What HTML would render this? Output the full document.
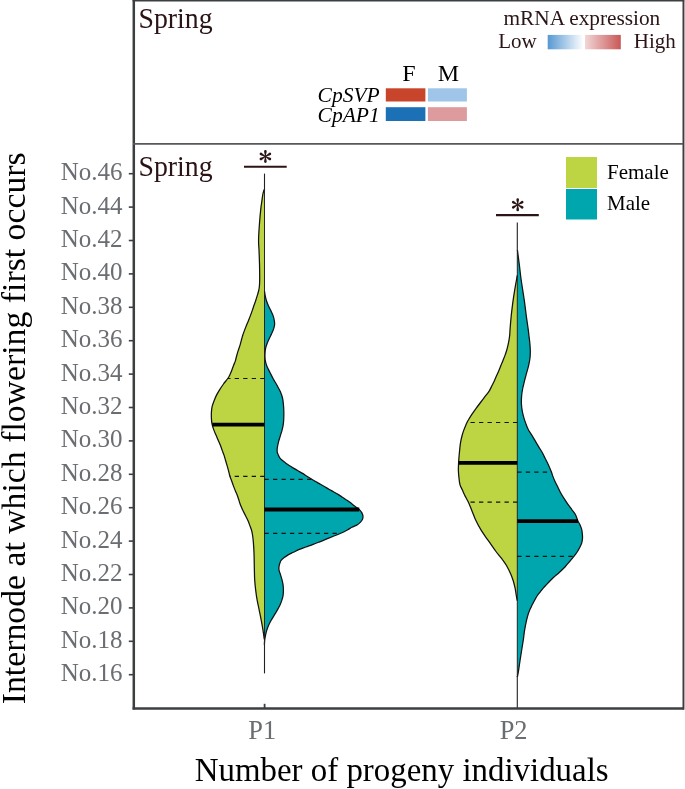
<!DOCTYPE html>
<html><head><meta charset="utf-8"><title>Violin</title><style>
html,body{margin:0;padding:0;background:#fff;overflow:hidden;}
svg{display:block;will-change:transform;}
text{font-family:"Liberation Serif",serif;}
</style></head><body>
<svg width="685" height="789" viewBox="0 0 685 789">
<rect width="685" height="789" fill="#fff"/>
<path d="M264.50,189.50 L264.20,189.50 C263.98,190.25 263.28,192.10 262.90,194.00 C262.52,195.90 262.23,198.58 261.90,200.90 C261.57,203.22 261.28,204.42 260.90,207.90 C260.52,211.38 259.97,217.15 259.60,221.80 C259.23,226.45 258.87,232.30 258.70,235.80 C258.53,239.30 258.55,240.48 258.60,242.80 C258.65,245.12 258.85,246.22 259.00,249.70 C259.15,253.18 259.38,259.05 259.50,263.70 C259.62,268.35 259.70,274.05 259.70,277.60 C259.70,281.15 259.65,282.92 259.50,285.00 C259.35,287.08 259.15,288.42 258.80,290.10 C258.45,291.78 257.90,293.42 257.40,295.10 C256.90,296.78 256.37,298.50 255.80,300.20 C255.23,301.90 254.58,303.60 254.00,305.30 C253.42,307.00 252.88,308.72 252.30,310.40 C251.72,312.08 251.13,313.72 250.50,315.40 C249.87,317.08 249.18,318.80 248.50,320.50 C247.82,322.20 247.08,323.92 246.40,325.60 C245.72,327.28 245.03,328.92 244.40,330.60 C243.77,332.28 243.13,334.00 242.60,335.70 C242.07,337.40 241.67,339.10 241.20,340.80 C240.73,342.50 240.32,344.22 239.80,345.90 C239.28,347.58 238.63,349.22 238.10,350.90 C237.57,352.58 237.07,354.30 236.60,356.00 C236.13,357.70 235.78,359.60 235.30,361.10 C234.82,362.60 234.27,363.52 233.70,365.00 C233.13,366.48 232.52,368.42 231.90,370.00 C231.28,371.58 230.68,373.08 230.00,374.50 C229.32,375.92 228.88,376.92 227.80,378.50 C226.72,380.08 224.85,382.13 223.50,384.00 C222.15,385.87 220.88,387.80 219.70,389.70 C218.52,391.60 217.35,393.52 216.40,395.40 C215.45,397.28 214.72,399.12 214.00,401.00 C213.28,402.88 212.53,404.80 212.10,406.70 C211.67,408.60 211.52,410.50 211.40,412.40 C211.28,414.30 211.30,416.20 211.40,418.10 C211.50,420.00 211.58,421.80 212.00,423.80 C212.42,425.80 213.23,428.22 213.90,430.10 C214.57,431.98 215.28,433.42 216.00,435.10 C216.72,436.78 217.47,438.50 218.20,440.20 C218.93,441.90 219.73,443.60 220.40,445.30 C221.07,447.00 221.58,448.72 222.20,450.40 C222.82,452.08 223.53,453.72 224.10,455.40 C224.67,457.08 225.10,458.80 225.60,460.50 C226.10,462.20 226.62,463.92 227.10,465.60 C227.58,467.28 228.03,468.83 228.50,470.60 C228.97,472.37 229.38,474.50 229.90,476.20 C230.42,477.90 231.02,479.18 231.60,480.80 C232.18,482.42 232.77,484.22 233.40,485.90 C234.03,487.58 234.72,489.22 235.40,490.90 C236.08,492.58 236.87,494.30 237.50,496.00 C238.13,497.70 238.70,499.58 239.20,501.10 C239.70,502.62 239.92,503.60 240.50,505.10 C241.08,506.60 241.90,508.42 242.70,510.10 C243.50,511.78 244.45,513.50 245.30,515.20 C246.15,516.90 247.05,518.60 247.80,520.30 C248.55,522.00 249.17,523.72 249.80,525.40 C250.43,527.08 251.13,528.72 251.60,530.40 C252.07,532.08 252.33,533.80 252.60,535.50 C252.87,537.20 253.03,538.92 253.20,540.60 C253.37,542.28 253.48,543.92 253.60,545.60 C253.72,547.28 253.82,549.00 253.90,550.70 C253.98,552.40 254.05,554.10 254.10,555.80 C254.15,557.50 254.15,558.37 254.20,560.90 C254.25,563.43 254.32,567.80 254.40,571.00 C254.48,574.20 254.48,576.88 254.70,580.10 C254.92,583.32 255.28,586.92 255.70,590.30 C256.12,593.68 256.60,597.02 257.20,600.40 C257.80,603.78 258.62,607.22 259.30,610.60 C259.98,613.98 260.67,617.32 261.30,620.70 C261.93,624.08 262.68,628.37 263.10,630.90 C263.52,633.43 263.60,634.47 263.80,635.90 C264.00,637.33 264.22,638.90 264.30,639.50 L264.50,639.50 Z" fill="#bdd443"/>
<path d="M264.50,291.10 L264.50,291.10 C264.60,291.77 264.80,293.58 265.10,295.10 C265.40,296.62 265.78,298.50 266.30,300.20 C266.82,301.90 267.47,303.62 268.20,305.30 C268.93,306.98 269.90,308.62 270.70,310.30 C271.50,311.98 272.40,313.70 273.00,315.40 C273.60,317.10 274.03,318.98 274.30,320.50 C274.57,322.02 274.70,323.15 274.60,324.50 C274.50,325.85 274.18,327.08 273.70,328.60 C273.22,330.12 272.45,331.92 271.70,333.60 C270.95,335.28 269.98,337.00 269.20,338.70 C268.42,340.40 267.62,342.12 267.00,343.80 C266.38,345.48 265.83,347.12 265.50,348.80 C265.17,350.48 265.05,352.03 265.00,353.90 C264.95,355.77 264.88,357.93 265.20,360.00 C265.52,362.07 266.08,364.18 266.90,366.30 C267.72,368.42 269.03,370.58 270.10,372.70 C271.17,374.82 272.15,376.90 273.30,379.00 C274.45,381.10 275.83,383.20 277.00,385.30 C278.17,387.40 279.38,389.48 280.30,391.60 C281.22,393.72 281.98,395.88 282.50,398.00 C283.02,400.12 283.18,402.20 283.40,404.30 C283.62,406.40 283.73,408.48 283.80,410.60 C283.87,412.72 283.87,414.88 283.80,417.00 C283.73,419.12 283.67,421.20 283.40,423.30 C283.13,425.40 282.72,427.50 282.20,429.60 C281.68,431.70 280.93,433.78 280.30,435.90 C279.67,438.02 278.92,440.18 278.40,442.30 C277.88,444.42 277.38,446.92 277.20,448.60 C277.02,450.28 277.12,451.33 277.30,452.40 C277.48,453.47 277.92,454.13 278.30,455.00 C278.68,455.87 278.95,456.72 279.60,457.60 C280.25,458.48 281.22,459.42 282.20,460.30 C283.18,461.18 284.33,462.03 285.50,462.90 C286.67,463.77 287.88,464.63 289.20,465.50 C290.52,466.37 291.93,467.22 293.40,468.10 C294.87,468.98 296.47,469.92 298.00,470.80 C299.53,471.68 301.18,472.53 302.60,473.40 C304.02,474.27 304.97,475.02 306.50,476.00 C308.03,476.98 310.37,478.42 311.80,479.30 C313.23,480.18 313.78,480.53 315.10,481.30 C316.42,482.07 318.17,483.03 319.70,483.90 C321.23,484.77 322.77,485.62 324.30,486.50 C325.83,487.38 327.37,488.32 328.90,489.20 C330.43,490.08 331.97,490.93 333.50,491.80 C335.03,492.67 336.68,493.53 338.10,494.40 C339.52,495.27 340.68,496.12 342.00,497.00 C343.32,497.88 344.68,498.82 346.00,499.70 C347.32,500.58 348.70,501.43 349.90,502.30 C351.10,503.17 352.10,504.02 353.20,504.90 C354.30,505.78 355.47,506.82 356.50,507.60 C357.53,508.38 358.50,508.72 359.40,509.60 C360.30,510.48 361.30,511.70 361.90,512.90 C362.50,514.10 362.92,515.70 363.00,516.80 C363.08,517.90 362.82,518.62 362.40,519.50 C361.98,520.38 361.33,521.23 360.50,522.10 C359.67,522.97 358.83,523.83 357.40,524.70 C355.97,525.57 353.58,526.42 351.90,527.30 C350.22,528.18 349.17,529.00 347.30,530.00 C345.43,531.00 343.12,532.22 340.70,533.30 C338.28,534.38 335.22,535.52 332.80,536.50 C330.38,537.48 328.38,538.32 326.20,539.20 C324.02,540.08 321.88,540.93 319.70,541.80 C317.52,542.67 315.40,543.53 313.10,544.40 C310.80,545.27 308.30,546.12 305.90,547.00 C303.50,547.88 300.78,548.82 298.70,549.70 C296.62,550.58 295.17,551.43 293.40,552.30 C291.63,553.17 289.63,554.02 288.10,554.90 C286.57,555.78 285.33,556.72 284.20,557.60 C283.07,558.48 282.00,559.33 281.30,560.20 C280.60,561.07 280.37,561.83 280.00,562.80 C279.63,563.77 279.27,564.80 279.10,566.00 C278.93,567.20 278.75,568.48 279.00,570.00 C279.25,571.52 280.08,573.42 280.60,575.10 C281.12,576.78 281.68,578.42 282.10,580.10 C282.52,581.78 282.88,583.50 283.10,585.20 C283.32,586.90 283.40,588.60 283.40,590.30 C283.40,592.00 283.37,593.72 283.10,595.40 C282.83,597.08 282.35,598.72 281.80,600.40 C281.25,602.08 280.60,603.80 279.80,605.50 C279.00,607.20 277.97,608.92 277.00,610.60 C276.03,612.28 275.02,613.92 274.00,615.60 C272.98,617.28 271.83,619.00 270.90,620.70 C269.97,622.40 269.12,624.10 268.40,625.80 C267.68,627.50 267.10,629.22 266.60,630.90 C266.10,632.58 265.73,634.22 265.40,635.90 C265.07,637.58 264.77,639.48 264.60,641.00 C264.43,642.52 264.43,644.33 264.40,645.00 L264.50,645.00 Z" fill="#00a6ae"/>
<path d="M264.20,189.50 C263.98,190.25 263.28,192.10 262.90,194.00 C262.52,195.90 262.23,198.58 261.90,200.90 C261.57,203.22 261.28,204.42 260.90,207.90 C260.52,211.38 259.97,217.15 259.60,221.80 C259.23,226.45 258.87,232.30 258.70,235.80 C258.53,239.30 258.55,240.48 258.60,242.80 C258.65,245.12 258.85,246.22 259.00,249.70 C259.15,253.18 259.38,259.05 259.50,263.70 C259.62,268.35 259.70,274.05 259.70,277.60 C259.70,281.15 259.65,282.92 259.50,285.00 C259.35,287.08 259.15,288.42 258.80,290.10 C258.45,291.78 257.90,293.42 257.40,295.10 C256.90,296.78 256.37,298.50 255.80,300.20 C255.23,301.90 254.58,303.60 254.00,305.30 C253.42,307.00 252.88,308.72 252.30,310.40 C251.72,312.08 251.13,313.72 250.50,315.40 C249.87,317.08 249.18,318.80 248.50,320.50 C247.82,322.20 247.08,323.92 246.40,325.60 C245.72,327.28 245.03,328.92 244.40,330.60 C243.77,332.28 243.13,334.00 242.60,335.70 C242.07,337.40 241.67,339.10 241.20,340.80 C240.73,342.50 240.32,344.22 239.80,345.90 C239.28,347.58 238.63,349.22 238.10,350.90 C237.57,352.58 237.07,354.30 236.60,356.00 C236.13,357.70 235.78,359.60 235.30,361.10 C234.82,362.60 234.27,363.52 233.70,365.00 C233.13,366.48 232.52,368.42 231.90,370.00 C231.28,371.58 230.68,373.08 230.00,374.50 C229.32,375.92 228.88,376.92 227.80,378.50 C226.72,380.08 224.85,382.13 223.50,384.00 C222.15,385.87 220.88,387.80 219.70,389.70 C218.52,391.60 217.35,393.52 216.40,395.40 C215.45,397.28 214.72,399.12 214.00,401.00 C213.28,402.88 212.53,404.80 212.10,406.70 C211.67,408.60 211.52,410.50 211.40,412.40 C211.28,414.30 211.30,416.20 211.40,418.10 C211.50,420.00 211.58,421.80 212.00,423.80 C212.42,425.80 213.23,428.22 213.90,430.10 C214.57,431.98 215.28,433.42 216.00,435.10 C216.72,436.78 217.47,438.50 218.20,440.20 C218.93,441.90 219.73,443.60 220.40,445.30 C221.07,447.00 221.58,448.72 222.20,450.40 C222.82,452.08 223.53,453.72 224.10,455.40 C224.67,457.08 225.10,458.80 225.60,460.50 C226.10,462.20 226.62,463.92 227.10,465.60 C227.58,467.28 228.03,468.83 228.50,470.60 C228.97,472.37 229.38,474.50 229.90,476.20 C230.42,477.90 231.02,479.18 231.60,480.80 C232.18,482.42 232.77,484.22 233.40,485.90 C234.03,487.58 234.72,489.22 235.40,490.90 C236.08,492.58 236.87,494.30 237.50,496.00 C238.13,497.70 238.70,499.58 239.20,501.10 C239.70,502.62 239.92,503.60 240.50,505.10 C241.08,506.60 241.90,508.42 242.70,510.10 C243.50,511.78 244.45,513.50 245.30,515.20 C246.15,516.90 247.05,518.60 247.80,520.30 C248.55,522.00 249.17,523.72 249.80,525.40 C250.43,527.08 251.13,528.72 251.60,530.40 C252.07,532.08 252.33,533.80 252.60,535.50 C252.87,537.20 253.03,538.92 253.20,540.60 C253.37,542.28 253.48,543.92 253.60,545.60 C253.72,547.28 253.82,549.00 253.90,550.70 C253.98,552.40 254.05,554.10 254.10,555.80 C254.15,557.50 254.15,558.37 254.20,560.90 C254.25,563.43 254.32,567.80 254.40,571.00 C254.48,574.20 254.48,576.88 254.70,580.10 C254.92,583.32 255.28,586.92 255.70,590.30 C256.12,593.68 256.60,597.02 257.20,600.40 C257.80,603.78 258.62,607.22 259.30,610.60 C259.98,613.98 260.67,617.32 261.30,620.70 C261.93,624.08 262.68,628.37 263.10,630.90 C263.52,633.43 263.60,634.47 263.80,635.90 C264.00,637.33 264.22,638.90 264.30,639.50" fill="none" stroke="#111" stroke-width="1.25"/>
<path d="M264.50,291.10 C264.60,291.77 264.80,293.58 265.10,295.10 C265.40,296.62 265.78,298.50 266.30,300.20 C266.82,301.90 267.47,303.62 268.20,305.30 C268.93,306.98 269.90,308.62 270.70,310.30 C271.50,311.98 272.40,313.70 273.00,315.40 C273.60,317.10 274.03,318.98 274.30,320.50 C274.57,322.02 274.70,323.15 274.60,324.50 C274.50,325.85 274.18,327.08 273.70,328.60 C273.22,330.12 272.45,331.92 271.70,333.60 C270.95,335.28 269.98,337.00 269.20,338.70 C268.42,340.40 267.62,342.12 267.00,343.80 C266.38,345.48 265.83,347.12 265.50,348.80 C265.17,350.48 265.05,352.03 265.00,353.90 C264.95,355.77 264.88,357.93 265.20,360.00 C265.52,362.07 266.08,364.18 266.90,366.30 C267.72,368.42 269.03,370.58 270.10,372.70 C271.17,374.82 272.15,376.90 273.30,379.00 C274.45,381.10 275.83,383.20 277.00,385.30 C278.17,387.40 279.38,389.48 280.30,391.60 C281.22,393.72 281.98,395.88 282.50,398.00 C283.02,400.12 283.18,402.20 283.40,404.30 C283.62,406.40 283.73,408.48 283.80,410.60 C283.87,412.72 283.87,414.88 283.80,417.00 C283.73,419.12 283.67,421.20 283.40,423.30 C283.13,425.40 282.72,427.50 282.20,429.60 C281.68,431.70 280.93,433.78 280.30,435.90 C279.67,438.02 278.92,440.18 278.40,442.30 C277.88,444.42 277.38,446.92 277.20,448.60 C277.02,450.28 277.12,451.33 277.30,452.40 C277.48,453.47 277.92,454.13 278.30,455.00 C278.68,455.87 278.95,456.72 279.60,457.60 C280.25,458.48 281.22,459.42 282.20,460.30 C283.18,461.18 284.33,462.03 285.50,462.90 C286.67,463.77 287.88,464.63 289.20,465.50 C290.52,466.37 291.93,467.22 293.40,468.10 C294.87,468.98 296.47,469.92 298.00,470.80 C299.53,471.68 301.18,472.53 302.60,473.40 C304.02,474.27 304.97,475.02 306.50,476.00 C308.03,476.98 310.37,478.42 311.80,479.30 C313.23,480.18 313.78,480.53 315.10,481.30 C316.42,482.07 318.17,483.03 319.70,483.90 C321.23,484.77 322.77,485.62 324.30,486.50 C325.83,487.38 327.37,488.32 328.90,489.20 C330.43,490.08 331.97,490.93 333.50,491.80 C335.03,492.67 336.68,493.53 338.10,494.40 C339.52,495.27 340.68,496.12 342.00,497.00 C343.32,497.88 344.68,498.82 346.00,499.70 C347.32,500.58 348.70,501.43 349.90,502.30 C351.10,503.17 352.10,504.02 353.20,504.90 C354.30,505.78 355.47,506.82 356.50,507.60 C357.53,508.38 358.50,508.72 359.40,509.60 C360.30,510.48 361.30,511.70 361.90,512.90 C362.50,514.10 362.92,515.70 363.00,516.80 C363.08,517.90 362.82,518.62 362.40,519.50 C361.98,520.38 361.33,521.23 360.50,522.10 C359.67,522.97 358.83,523.83 357.40,524.70 C355.97,525.57 353.58,526.42 351.90,527.30 C350.22,528.18 349.17,529.00 347.30,530.00 C345.43,531.00 343.12,532.22 340.70,533.30 C338.28,534.38 335.22,535.52 332.80,536.50 C330.38,537.48 328.38,538.32 326.20,539.20 C324.02,540.08 321.88,540.93 319.70,541.80 C317.52,542.67 315.40,543.53 313.10,544.40 C310.80,545.27 308.30,546.12 305.90,547.00 C303.50,547.88 300.78,548.82 298.70,549.70 C296.62,550.58 295.17,551.43 293.40,552.30 C291.63,553.17 289.63,554.02 288.10,554.90 C286.57,555.78 285.33,556.72 284.20,557.60 C283.07,558.48 282.00,559.33 281.30,560.20 C280.60,561.07 280.37,561.83 280.00,562.80 C279.63,563.77 279.27,564.80 279.10,566.00 C278.93,567.20 278.75,568.48 279.00,570.00 C279.25,571.52 280.08,573.42 280.60,575.10 C281.12,576.78 281.68,578.42 282.10,580.10 C282.52,581.78 282.88,583.50 283.10,585.20 C283.32,586.90 283.40,588.60 283.40,590.30 C283.40,592.00 283.37,593.72 283.10,595.40 C282.83,597.08 282.35,598.72 281.80,600.40 C281.25,602.08 280.60,603.80 279.80,605.50 C279.00,607.20 277.97,608.92 277.00,610.60 C276.03,612.28 275.02,613.92 274.00,615.60 C272.98,617.28 271.83,619.00 270.90,620.70 C269.97,622.40 269.12,624.10 268.40,625.80 C267.68,627.50 267.10,629.22 266.60,630.90 C266.10,632.58 265.73,634.22 265.40,635.90 C265.07,637.58 264.77,639.48 264.60,641.00 C264.43,642.52 264.43,644.33 264.40,645.00" fill="none" stroke="#111" stroke-width="1.25"/>
<line x1="264.50" y1="189.50" x2="264.50" y2="645.00" stroke="#1c1c1c" stroke-width="0.95"/>
<line x1="264.50" y1="378.50" x2="227.80" y2="378.50" stroke="#111" stroke-width="1.2" stroke-dasharray="4.3 4.2"/>
<line x1="212.24" y1="424.60" x2="264.50" y2="424.60" stroke="#000" stroke-width="3.8"/>
<line x1="264.50" y1="476.40" x2="229.97" y2="476.40" stroke="#111" stroke-width="1.2" stroke-dasharray="4.3 4.2"/>
<line x1="264.50" y1="479.40" x2="311.96" y2="479.40" stroke="#111" stroke-width="1.2" stroke-dasharray="4.3 4.2"/>
<line x1="264.50" y1="509.50" x2="359.25" y2="509.50" stroke="#000" stroke-width="3.8"/>
<line x1="264.50" y1="533.30" x2="340.70" y2="533.30" stroke="#111" stroke-width="1.2" stroke-dasharray="4.3 4.2"/>
<path d="M517.30,275.40 L517.30,275.40 C516.85,277.93 515.37,285.95 514.60,290.60 C513.83,295.25 513.27,299.07 512.70,303.30 C512.13,307.53 511.63,311.78 511.20,316.00 C510.77,320.22 510.35,325.42 510.10,328.60 C509.85,331.78 509.88,333.18 509.70,335.10 C509.52,337.02 509.28,338.42 509.00,340.10 C508.72,341.78 508.38,343.50 508.00,345.20 C507.62,346.90 507.20,348.60 506.70,350.30 C506.20,352.00 505.62,353.72 505.00,355.40 C504.38,357.08 503.68,358.72 503.00,360.40 C502.32,362.08 501.58,363.80 500.90,365.50 C500.22,367.20 499.62,368.92 498.90,370.60 C498.18,372.28 497.35,373.92 496.60,375.60 C495.85,377.28 495.17,379.05 494.40,380.70 C493.63,382.35 492.85,383.82 492.00,385.50 C491.15,387.18 490.48,388.93 489.30,390.80 C488.12,392.67 486.37,394.75 484.90,396.70 C483.43,398.65 481.97,400.55 480.50,402.50 C479.03,404.45 477.52,406.45 476.10,408.40 C474.68,410.35 473.32,412.22 472.00,414.20 C470.68,416.18 469.03,418.92 468.20,420.30 C467.37,421.68 467.42,421.65 467.00,422.50 C466.58,423.35 466.25,424.08 465.70,425.40 C465.15,426.72 464.30,428.72 463.70,430.40 C463.10,432.08 462.57,433.80 462.10,435.50 C461.63,437.20 461.23,438.92 460.90,440.60 C460.57,442.28 460.32,443.92 460.10,445.60 C459.88,447.28 459.77,449.00 459.60,450.70 C459.43,452.40 459.27,453.77 459.10,455.80 C458.93,457.83 458.72,460.37 458.60,462.90 C458.48,465.43 458.30,468.15 458.40,471.00 C458.50,473.85 458.92,477.65 459.20,480.00 C459.48,482.35 459.57,483.42 460.10,485.10 C460.63,486.78 461.63,488.42 462.40,490.10 C463.17,491.78 463.72,493.20 464.70,495.20 C465.68,497.20 467.12,499.57 468.30,502.10 C469.48,504.63 470.53,507.32 471.80,510.40 C473.07,513.48 474.30,517.22 475.90,520.60 C477.50,523.98 479.30,527.32 481.40,530.70 C483.50,534.08 486.13,537.52 488.50,540.90 C490.87,544.28 493.73,548.47 495.60,551.00 C497.47,553.53 498.52,554.60 499.70,556.10 C500.88,557.60 501.55,558.38 502.70,560.00 C503.85,561.62 505.30,563.53 506.60,565.80 C507.90,568.07 509.38,571.07 510.50,573.60 C511.62,576.13 512.53,578.57 513.30,581.00 C514.07,583.43 514.60,585.78 515.10,588.20 C515.60,590.62 515.95,593.42 516.30,595.50 C516.65,597.58 517.05,599.83 517.20,600.70 L517.30,600.70 Z" fill="#bdd443"/>
<path d="M517.30,250.00 L517.40,250.00 C517.73,252.55 518.82,260.63 519.40,265.30 C519.98,269.97 520.33,273.78 520.90,278.00 C521.47,282.22 522.17,286.38 522.80,290.60 C523.43,294.82 524.12,299.07 524.70,303.30 C525.28,307.53 525.73,311.78 526.30,316.00 C526.87,320.22 527.67,325.40 528.10,328.60 C528.53,331.80 528.62,332.83 528.90,335.20 C529.18,337.57 529.57,340.27 529.80,342.80 C530.03,345.33 530.27,347.87 530.30,350.40 C530.33,352.93 530.28,355.45 530.00,358.00 C529.72,360.55 529.18,363.15 528.60,365.70 C528.02,368.25 527.18,370.77 526.50,373.30 C525.82,375.83 525.13,378.37 524.50,380.90 C523.87,383.43 523.18,385.97 522.70,388.50 C522.22,391.03 521.82,393.57 521.60,396.10 C521.38,398.63 521.28,401.17 521.40,403.70 C521.52,406.23 521.83,408.77 522.30,411.30 C522.77,413.83 523.43,416.37 524.20,418.90 C524.97,421.43 526.18,424.65 526.90,426.50 C527.62,428.35 527.63,428.47 528.50,430.00 C529.37,431.53 530.93,433.80 532.10,435.70 C533.27,437.60 534.37,439.50 535.50,441.40 C536.63,443.30 537.75,445.20 538.90,447.10 C540.05,449.00 541.35,450.90 542.40,452.80 C543.45,454.70 544.25,456.60 545.20,458.50 C546.15,460.40 547.05,461.92 548.10,464.20 C549.15,466.48 550.75,470.30 551.50,472.20 C552.25,474.10 552.03,474.08 552.60,475.60 C553.17,477.12 554.03,479.40 554.90,481.30 C555.77,483.20 556.85,485.10 557.80,487.00 C558.75,488.90 559.57,490.80 560.60,492.70 C561.63,494.60 562.80,496.50 564.00,498.40 C565.20,500.30 566.47,502.20 567.80,504.10 C569.13,506.00 570.73,508.07 572.00,509.80 C573.27,511.53 574.42,512.62 575.40,514.50 C576.38,516.38 577.20,519.52 577.90,521.10 C578.60,522.68 579.00,522.73 579.60,524.00 C580.20,525.27 581.05,527.12 581.50,528.70 C581.95,530.28 582.13,531.92 582.30,533.50 C582.47,535.08 582.60,536.62 582.50,538.20 C582.40,539.78 582.18,541.42 581.70,543.00 C581.22,544.58 580.42,546.12 579.60,547.70 C578.78,549.28 577.75,551.07 576.80,552.50 C575.85,553.93 575.17,554.72 573.90,556.30 C572.63,557.88 570.65,560.27 569.20,562.00 C567.75,563.73 566.82,565.00 565.20,566.70 C563.58,568.40 561.42,570.43 559.50,572.20 C557.58,573.97 555.30,575.83 553.70,577.30 C552.10,578.77 551.10,579.78 549.90,581.00 C548.70,582.22 547.62,583.40 546.50,584.60 C545.38,585.80 544.23,586.98 543.20,588.20 C542.17,589.42 541.27,590.68 540.30,591.90 C539.33,593.12 538.25,594.28 537.40,595.50 C536.55,596.72 535.88,597.98 535.20,599.20 C534.52,600.42 533.93,601.58 533.30,602.80 C532.67,604.02 532.00,605.28 531.40,606.50 C530.80,607.72 530.22,608.88 529.70,610.10 C529.18,611.32 528.82,612.15 528.30,613.80 C527.78,615.45 527.22,617.28 526.60,620.00 C525.98,622.72 525.15,626.77 524.60,630.10 C524.05,633.43 523.97,635.55 523.30,640.00 C522.63,644.45 521.40,651.63 520.60,656.80 C519.80,661.97 519.03,667.63 518.50,671.00 C517.97,674.37 517.58,676.00 517.40,677.00 L517.30,677.00 Z" fill="#00a6ae"/>
<path d="M517.30,275.40 C516.85,277.93 515.37,285.95 514.60,290.60 C513.83,295.25 513.27,299.07 512.70,303.30 C512.13,307.53 511.63,311.78 511.20,316.00 C510.77,320.22 510.35,325.42 510.10,328.60 C509.85,331.78 509.88,333.18 509.70,335.10 C509.52,337.02 509.28,338.42 509.00,340.10 C508.72,341.78 508.38,343.50 508.00,345.20 C507.62,346.90 507.20,348.60 506.70,350.30 C506.20,352.00 505.62,353.72 505.00,355.40 C504.38,357.08 503.68,358.72 503.00,360.40 C502.32,362.08 501.58,363.80 500.90,365.50 C500.22,367.20 499.62,368.92 498.90,370.60 C498.18,372.28 497.35,373.92 496.60,375.60 C495.85,377.28 495.17,379.05 494.40,380.70 C493.63,382.35 492.85,383.82 492.00,385.50 C491.15,387.18 490.48,388.93 489.30,390.80 C488.12,392.67 486.37,394.75 484.90,396.70 C483.43,398.65 481.97,400.55 480.50,402.50 C479.03,404.45 477.52,406.45 476.10,408.40 C474.68,410.35 473.32,412.22 472.00,414.20 C470.68,416.18 469.03,418.92 468.20,420.30 C467.37,421.68 467.42,421.65 467.00,422.50 C466.58,423.35 466.25,424.08 465.70,425.40 C465.15,426.72 464.30,428.72 463.70,430.40 C463.10,432.08 462.57,433.80 462.10,435.50 C461.63,437.20 461.23,438.92 460.90,440.60 C460.57,442.28 460.32,443.92 460.10,445.60 C459.88,447.28 459.77,449.00 459.60,450.70 C459.43,452.40 459.27,453.77 459.10,455.80 C458.93,457.83 458.72,460.37 458.60,462.90 C458.48,465.43 458.30,468.15 458.40,471.00 C458.50,473.85 458.92,477.65 459.20,480.00 C459.48,482.35 459.57,483.42 460.10,485.10 C460.63,486.78 461.63,488.42 462.40,490.10 C463.17,491.78 463.72,493.20 464.70,495.20 C465.68,497.20 467.12,499.57 468.30,502.10 C469.48,504.63 470.53,507.32 471.80,510.40 C473.07,513.48 474.30,517.22 475.90,520.60 C477.50,523.98 479.30,527.32 481.40,530.70 C483.50,534.08 486.13,537.52 488.50,540.90 C490.87,544.28 493.73,548.47 495.60,551.00 C497.47,553.53 498.52,554.60 499.70,556.10 C500.88,557.60 501.55,558.38 502.70,560.00 C503.85,561.62 505.30,563.53 506.60,565.80 C507.90,568.07 509.38,571.07 510.50,573.60 C511.62,576.13 512.53,578.57 513.30,581.00 C514.07,583.43 514.60,585.78 515.10,588.20 C515.60,590.62 515.95,593.42 516.30,595.50 C516.65,597.58 517.05,599.83 517.20,600.70" fill="none" stroke="#111" stroke-width="1.25"/>
<path d="M517.40,250.00 C517.73,252.55 518.82,260.63 519.40,265.30 C519.98,269.97 520.33,273.78 520.90,278.00 C521.47,282.22 522.17,286.38 522.80,290.60 C523.43,294.82 524.12,299.07 524.70,303.30 C525.28,307.53 525.73,311.78 526.30,316.00 C526.87,320.22 527.67,325.40 528.10,328.60 C528.53,331.80 528.62,332.83 528.90,335.20 C529.18,337.57 529.57,340.27 529.80,342.80 C530.03,345.33 530.27,347.87 530.30,350.40 C530.33,352.93 530.28,355.45 530.00,358.00 C529.72,360.55 529.18,363.15 528.60,365.70 C528.02,368.25 527.18,370.77 526.50,373.30 C525.82,375.83 525.13,378.37 524.50,380.90 C523.87,383.43 523.18,385.97 522.70,388.50 C522.22,391.03 521.82,393.57 521.60,396.10 C521.38,398.63 521.28,401.17 521.40,403.70 C521.52,406.23 521.83,408.77 522.30,411.30 C522.77,413.83 523.43,416.37 524.20,418.90 C524.97,421.43 526.18,424.65 526.90,426.50 C527.62,428.35 527.63,428.47 528.50,430.00 C529.37,431.53 530.93,433.80 532.10,435.70 C533.27,437.60 534.37,439.50 535.50,441.40 C536.63,443.30 537.75,445.20 538.90,447.10 C540.05,449.00 541.35,450.90 542.40,452.80 C543.45,454.70 544.25,456.60 545.20,458.50 C546.15,460.40 547.05,461.92 548.10,464.20 C549.15,466.48 550.75,470.30 551.50,472.20 C552.25,474.10 552.03,474.08 552.60,475.60 C553.17,477.12 554.03,479.40 554.90,481.30 C555.77,483.20 556.85,485.10 557.80,487.00 C558.75,488.90 559.57,490.80 560.60,492.70 C561.63,494.60 562.80,496.50 564.00,498.40 C565.20,500.30 566.47,502.20 567.80,504.10 C569.13,506.00 570.73,508.07 572.00,509.80 C573.27,511.53 574.42,512.62 575.40,514.50 C576.38,516.38 577.20,519.52 577.90,521.10 C578.60,522.68 579.00,522.73 579.60,524.00 C580.20,525.27 581.05,527.12 581.50,528.70 C581.95,530.28 582.13,531.92 582.30,533.50 C582.47,535.08 582.60,536.62 582.50,538.20 C582.40,539.78 582.18,541.42 581.70,543.00 C581.22,544.58 580.42,546.12 579.60,547.70 C578.78,549.28 577.75,551.07 576.80,552.50 C575.85,553.93 575.17,554.72 573.90,556.30 C572.63,557.88 570.65,560.27 569.20,562.00 C567.75,563.73 566.82,565.00 565.20,566.70 C563.58,568.40 561.42,570.43 559.50,572.20 C557.58,573.97 555.30,575.83 553.70,577.30 C552.10,578.77 551.10,579.78 549.90,581.00 C548.70,582.22 547.62,583.40 546.50,584.60 C545.38,585.80 544.23,586.98 543.20,588.20 C542.17,589.42 541.27,590.68 540.30,591.90 C539.33,593.12 538.25,594.28 537.40,595.50 C536.55,596.72 535.88,597.98 535.20,599.20 C534.52,600.42 533.93,601.58 533.30,602.80 C532.67,604.02 532.00,605.28 531.40,606.50 C530.80,607.72 530.22,608.88 529.70,610.10 C529.18,611.32 528.82,612.15 528.30,613.80 C527.78,615.45 527.22,617.28 526.60,620.00 C525.98,622.72 525.15,626.77 524.60,630.10 C524.05,633.43 523.97,635.55 523.30,640.00 C522.63,644.45 521.40,651.63 520.60,656.80 C519.80,661.97 519.03,667.63 518.50,671.00 C517.97,674.37 517.58,676.00 517.40,677.00" fill="none" stroke="#111" stroke-width="1.25"/>
<line x1="517.30" y1="250.00" x2="517.30" y2="677.00" stroke="#1c1c1c" stroke-width="0.95"/>
<line x1="517.30" y1="422.50" x2="467.00" y2="422.50" stroke="#111" stroke-width="1.2" stroke-dasharray="4.3 4.2"/>
<line x1="458.61" y1="462.80" x2="517.30" y2="462.80" stroke="#000" stroke-width="3.8"/>
<line x1="517.30" y1="502.20" x2="468.34" y2="502.20" stroke="#111" stroke-width="1.2" stroke-dasharray="4.3 4.2"/>
<line x1="517.30" y1="472.20" x2="551.50" y2="472.20" stroke="#111" stroke-width="1.2" stroke-dasharray="4.3 4.2"/>
<line x1="517.30" y1="521.20" x2="577.96" y2="521.20" stroke="#000" stroke-width="3.8"/>
<line x1="517.30" y1="556.40" x2="573.82" y2="556.40" stroke="#111" stroke-width="1.2" stroke-dasharray="4.3 4.2"/>
<line x1="264.50" y1="173.6" x2="264.50" y2="191" stroke="#222" stroke-width="1.1"/>
<line x1="264.50" y1="640" x2="264.50" y2="673.4" stroke="#222" stroke-width="1.1"/>
<line x1="517.30" y1="222.4" x2="517.30" y2="250" stroke="#222" stroke-width="1.1"/>
<line x1="517.30" y1="676" x2="517.30" y2="708" stroke="#222" stroke-width="1.1"/>
<line x1="133.8" y1="0" x2="133.8" y2="709.6" stroke="#3b3f42" stroke-width="2.5"/>
<line x1="683.5" y1="0" x2="683.5" y2="709.6" stroke="#3b3f42" stroke-width="2"/>
<line x1="132.6" y1="0.6" x2="684.5" y2="0.6" stroke="#3b3f42" stroke-width="1.6"/>
<line x1="133" y1="143.9" x2="683" y2="143.9" stroke="#55595c" stroke-width="1.8"/>
<line x1="684.6" y1="0" x2="684.6" y2="709" stroke="#b0b0b0" stroke-width="0.8"/>
<line x1="132.6" y1="708.6" x2="684" y2="708.6" stroke="#3b3f42" stroke-width="2.5"/>
<line x1="128.8" y1="173.70" x2="133" y2="173.70" stroke="#3b3f42" stroke-width="1.6"/>
<line x1="128.8" y1="207.10" x2="133" y2="207.10" stroke="#3b3f42" stroke-width="1.6"/>
<line x1="128.8" y1="240.50" x2="133" y2="240.50" stroke="#3b3f42" stroke-width="1.6"/>
<line x1="128.8" y1="273.90" x2="133" y2="273.90" stroke="#3b3f42" stroke-width="1.6"/>
<line x1="128.8" y1="307.30" x2="133" y2="307.30" stroke="#3b3f42" stroke-width="1.6"/>
<line x1="128.8" y1="340.70" x2="133" y2="340.70" stroke="#3b3f42" stroke-width="1.6"/>
<line x1="128.8" y1="374.10" x2="133" y2="374.10" stroke="#3b3f42" stroke-width="1.6"/>
<line x1="128.8" y1="407.50" x2="133" y2="407.50" stroke="#3b3f42" stroke-width="1.6"/>
<line x1="128.8" y1="440.90" x2="133" y2="440.90" stroke="#3b3f42" stroke-width="1.6"/>
<line x1="128.8" y1="474.30" x2="133" y2="474.30" stroke="#3b3f42" stroke-width="1.6"/>
<line x1="128.8" y1="507.70" x2="133" y2="507.70" stroke="#3b3f42" stroke-width="1.6"/>
<line x1="128.8" y1="541.10" x2="133" y2="541.10" stroke="#3b3f42" stroke-width="1.6"/>
<line x1="128.8" y1="574.50" x2="133" y2="574.50" stroke="#3b3f42" stroke-width="1.6"/>
<line x1="128.8" y1="607.90" x2="133" y2="607.90" stroke="#3b3f42" stroke-width="1.6"/>
<line x1="128.8" y1="641.30" x2="133" y2="641.30" stroke="#3b3f42" stroke-width="1.6"/>
<line x1="128.8" y1="674.70" x2="133" y2="674.70" stroke="#3b3f42" stroke-width="1.6"/>
<line x1="264.6" y1="703.8" x2="264.6" y2="708" stroke="#3b3f42" stroke-width="1.8"/>
<text x="122.5" y="180.10" text-anchor="end" font-size="25" fill="#6a6d71">No.46</text>
<text x="122.5" y="213.50" text-anchor="end" font-size="25" fill="#6a6d71">No.44</text>
<text x="122.5" y="246.90" text-anchor="end" font-size="25" fill="#6a6d71">No.42</text>
<text x="122.5" y="280.30" text-anchor="end" font-size="25" fill="#6a6d71">No.40</text>
<text x="122.5" y="313.70" text-anchor="end" font-size="25" fill="#6a6d71">No.38</text>
<text x="122.5" y="347.10" text-anchor="end" font-size="25" fill="#6a6d71">No.36</text>
<text x="122.5" y="380.50" text-anchor="end" font-size="25" fill="#6a6d71">No.34</text>
<text x="122.5" y="413.90" text-anchor="end" font-size="25" fill="#6a6d71">No.32</text>
<text x="122.5" y="447.30" text-anchor="end" font-size="25" fill="#6a6d71">No.30</text>
<text x="122.5" y="480.70" text-anchor="end" font-size="25" fill="#6a6d71">No.28</text>
<text x="122.5" y="514.10" text-anchor="end" font-size="25" fill="#6a6d71">No.26</text>
<text x="122.5" y="547.50" text-anchor="end" font-size="25" fill="#6a6d71">No.24</text>
<text x="122.5" y="580.90" text-anchor="end" font-size="25" fill="#6a6d71">No.22</text>
<text x="122.5" y="614.30" text-anchor="end" font-size="25" fill="#6a6d71">No.20</text>
<text x="122.5" y="647.70" text-anchor="end" font-size="25" fill="#6a6d71">No.18</text>
<text x="122.5" y="681.10" text-anchor="end" font-size="25" fill="#6a6d71">No.16</text>
<text x="262.2" y="739.1" text-anchor="middle" font-size="26.4" fill="#6a6d71">P1</text>
<text x="513.6" y="739.1" text-anchor="middle" font-size="26.4" fill="#6a6d71">P2</text>
<text x="194.8" y="781" font-size="32.9" fill="#000">Number of progeny individuals</text>
<text transform="translate(24.6,704.3) rotate(-90)" x="0" y="0" font-size="33.75" fill="#000">Internode at which flowering first occurs</text>
<text transform="translate(138.5,27.7) scale(1,1.04)" font-size="27.8" fill="#2a1416">Spring</text>
<text transform="translate(138.5,175.6) scale(1,1.04)" font-size="27.8" fill="#2a1416">Spring</text>
<line x1="244" y1="166.7" x2="286.7" y2="166.7" stroke="#2a1416" stroke-width="2"/>
<line x1="496" y1="215.1" x2="538.8" y2="215.1" stroke="#2a1416" stroke-width="2.2"/>
<g transform="translate(265.40,156.40) scale(1.000)" fill="#2a1416"><path transform="rotate(0)" d="M-0.45,-0.3 C-0.6,-2.4 -1.3,-3.7 -1.3,-5.2 A1.3,1.3 0 0 1 1.3,-5.2 C1.3,-3.7 0.6,-2.4 0.45,-0.3 Z"/><path transform="rotate(60)" d="M-0.45,-0.3 C-0.6,-2.4 -1.3,-3.7 -1.3,-5.2 A1.3,1.3 0 0 1 1.3,-5.2 C1.3,-3.7 0.6,-2.4 0.45,-0.3 Z"/><path transform="rotate(120)" d="M-0.45,-0.3 C-0.6,-2.4 -1.3,-3.7 -1.3,-5.2 A1.3,1.3 0 0 1 1.3,-5.2 C1.3,-3.7 0.6,-2.4 0.45,-0.3 Z"/><path transform="rotate(180)" d="M-0.45,-0.3 C-0.6,-2.4 -1.3,-3.7 -1.3,-5.2 A1.3,1.3 0 0 1 1.3,-5.2 C1.3,-3.7 0.6,-2.4 0.45,-0.3 Z"/><path transform="rotate(240)" d="M-0.45,-0.3 C-0.6,-2.4 -1.3,-3.7 -1.3,-5.2 A1.3,1.3 0 0 1 1.3,-5.2 C1.3,-3.7 0.6,-2.4 0.45,-0.3 Z"/><path transform="rotate(300)" d="M-0.45,-0.3 C-0.6,-2.4 -1.3,-3.7 -1.3,-5.2 A1.3,1.3 0 0 1 1.3,-5.2 C1.3,-3.7 0.6,-2.4 0.45,-0.3 Z"/><circle r="0.9"/></g>
<g transform="translate(517.70,204.70) scale(1.000)" fill="#2a1416"><path transform="rotate(0)" d="M-0.45,-0.3 C-0.6,-2.4 -1.3,-3.7 -1.3,-5.2 A1.3,1.3 0 0 1 1.3,-5.2 C1.3,-3.7 0.6,-2.4 0.45,-0.3 Z"/><path transform="rotate(60)" d="M-0.45,-0.3 C-0.6,-2.4 -1.3,-3.7 -1.3,-5.2 A1.3,1.3 0 0 1 1.3,-5.2 C1.3,-3.7 0.6,-2.4 0.45,-0.3 Z"/><path transform="rotate(120)" d="M-0.45,-0.3 C-0.6,-2.4 -1.3,-3.7 -1.3,-5.2 A1.3,1.3 0 0 1 1.3,-5.2 C1.3,-3.7 0.6,-2.4 0.45,-0.3 Z"/><path transform="rotate(180)" d="M-0.45,-0.3 C-0.6,-2.4 -1.3,-3.7 -1.3,-5.2 A1.3,1.3 0 0 1 1.3,-5.2 C1.3,-3.7 0.6,-2.4 0.45,-0.3 Z"/><path transform="rotate(240)" d="M-0.45,-0.3 C-0.6,-2.4 -1.3,-3.7 -1.3,-5.2 A1.3,1.3 0 0 1 1.3,-5.2 C1.3,-3.7 0.6,-2.4 0.45,-0.3 Z"/><path transform="rotate(300)" d="M-0.45,-0.3 C-0.6,-2.4 -1.3,-3.7 -1.3,-5.2 A1.3,1.3 0 0 1 1.3,-5.2 C1.3,-3.7 0.6,-2.4 0.45,-0.3 Z"/><circle r="0.9"/></g>
<rect x="566" y="157" width="31" height="31" fill="#bdd443"/>
<rect x="566" y="189" width="31" height="30.5" fill="#00a6ae"/>
<text x="607" y="178.8" font-size="21" fill="#000">Female</text>
<text x="607" y="209.5" font-size="21" fill="#000">Male</text>
<text x="402.3" y="81" font-size="24" fill="#000">F</text>
<text x="437.8" y="81" font-size="24" fill="#000">M</text>
<text x="317.6" y="102" font-size="21.5" font-style="italic" fill="#000">CpSVP</text>
<text x="317.6" y="121.5" font-size="21.5" font-style="italic" fill="#000">CpAP1</text>
<rect x="385.8" y="88.3" width="39.6" height="13.2" fill="#c8442a"/>
<rect x="427.9" y="88.3" width="39" height="13.2" fill="#9fc5e8"/>
<rect x="385.8" y="107.2" width="39.6" height="13.8" fill="#1b70b6"/>
<rect x="427.9" y="107.2" width="39" height="13.8" fill="#dd9b9e"/>
<defs><linearGradient id="gb" x1="0" x2="1"><stop offset="0" stop-color="#5698d2"/><stop offset="1" stop-color="#ffffff"/></linearGradient><linearGradient id="gr" x1="0" x2="1"><stop offset="0" stop-color="#f2d6d6"/><stop offset="1" stop-color="#c95858"/></linearGradient></defs>
<rect x="547.7" y="34.9" width="35.7" height="14.4" fill="url(#gb)"/>
<rect x="585" y="34.9" width="35.8" height="14.4" fill="url(#gr)"/>
<text x="503.5" y="25" font-size="21.3" fill="#2a1416">mRNA expression</text>
<text x="498.3" y="47.7" font-size="21" fill="#2a1416">Low</text>
<text x="633.8" y="47.7" font-size="21" fill="#2a1416">High</text>
</svg>
</body></html>
